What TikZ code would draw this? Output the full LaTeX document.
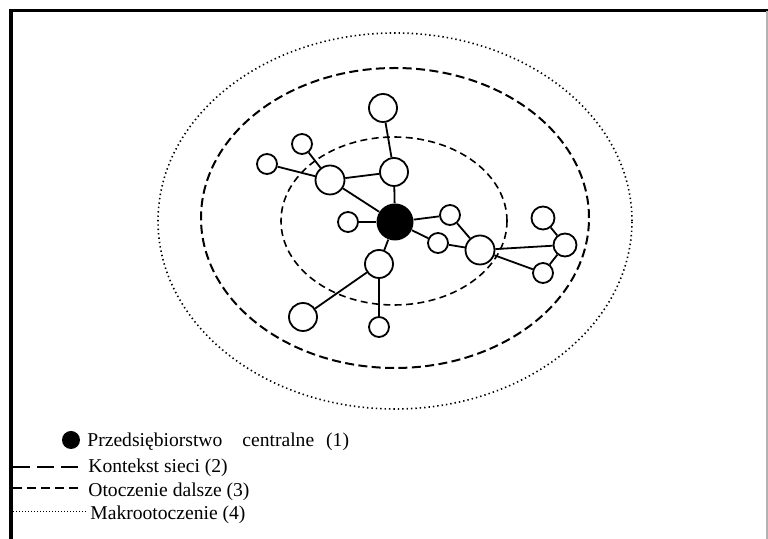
\documentclass[tikz,border=0pt]{standalone}
\usepackage{fontspec}
\setmainfont{Liberation Serif}
\usepackage{tikz}
\usetikzlibrary{positioning}

\begin{document}
\begin{tikzpicture}[
  x=0.5pt, y=-0.5pt,
  firma/.style={circle, draw, fill=white, line width=0.9pt, minimum size=#1, inner sep=0pt},
  centrum/.style={circle, fill=black, minimum size=18.5pt, inner sep=0pt},
  link/.style={line width=0.9pt},
  kontekst/.style={line width=0.8pt, dash pattern=on 3.5pt off 2.2pt},
  otoczenie/.style={line width=1pt, dash pattern=on 4.5pt off 2.2pt},
  makro/.style={line width=0.8pt, dash pattern=on 0.7pt off 1.5pt},
  legtext/.style={anchor=base west, inner sep=0pt, font=\fontsize{9.8}{12}\selectfont},
]
\useasboundingbox (0,0) rectangle (768,539);

% Frame
\draw[line width=1.5pt] (11,539) -- (11,11) -- (768,11);
\draw[gray!60, line width=0.6pt] (767,11) -- (767,539);

% Environments
\draw[makro] (395,221) ellipse [x radius=118.5pt, y radius=94pt];
\draw[otoczenie] (395,218) ellipse [x radius=97pt, y radius=75pt];
\draw[kontekst] (394,221) ellipse [x radius=56.5pt, y radius=42pt];

% Firms
\node[centrum] (c) at (395,222) {};
\node[firma=14pt] (t1) at (383,108) {};
\node[firma=14pt] (t2) at (394,172) {};
\node[firma=14.5pt] (lb) at (330,180) {};
\node[firma=10pt] (s1) at (302,144) {};
\node[firma=10pt] (s2) at (267,164) {};
\node[firma=10pt] (s3) at (348,222) {};
\node[firma=10pt] (s4) at (450,215) {};
\node[firma=10pt] (s5) at (438,243) {};
\node[firma=14.5pt] (br) at (480,250) {};
\node[firma=11.5pt] (fr) at (565,245) {};
\node[firma=11.5pt] (fu) at (543,218) {};
\node[firma=10pt] (fl) at (543,273) {};
\node[firma=14pt] (bc) at (379,264) {};
\node[firma=14pt] (ll) at (303,317) {};
\node[firma=10pt] (bs) at (379,327) {};

% Connections
\draw[link] (t1) -- (t2);
\draw[link] (t2) -- (c);
\draw[link] (t2) -- (lb);
\draw[link] (lb) -- (s1);
\draw[link] (lb) -- (s2);
\draw[link] (lb) -- (c);
\draw[link] (s3) -- (c);
\draw[link] (c) -- (s4);
\draw[link] (c) -- (s5);
\draw[link] (s4) -- (br);
\draw[link] (s5) -- (br);
\draw[link] (br) -- (fr);
\draw[link] (br) -- (fl);
\draw[link] (fr) -- (fu);
\draw[link] (fr) -- (fl);
\draw[link] (c) -- (bc);
\draw[link] (bc) -- (ll);
\draw[link] (bc) -- (bs);

% Legend
\node[circle, fill=black, minimum size=9pt, inner sep=0pt] (legdot) at (71,440) {};
\node[legtext] (leg1) at (87,447) {Przedsiębiorstwo\hspace{10pt}centralne\hspace{6pt}(1)};
\node[legtext] (leg2) at (88,473) {Kontekst sieci (2)};
\node[legtext] (leg3) at (88,497) {Otoczenie dalsze (3)};
\node[legtext] (leg4) at (90,520) {Makrootoczenie (4)};
\draw[line width=1.3pt, dash pattern=on 8.5pt off 3.5pt] (13,467) -- (78,467);
\draw[line width=1pt, dash pattern=on 4.5pt off 2.5pt] (13,488) -- (78,488);
\draw[line width=0.5pt, dash pattern=on 0.5pt off 1pt] (13,512) -- (86,512);

\end{tikzpicture}
\end{document}
